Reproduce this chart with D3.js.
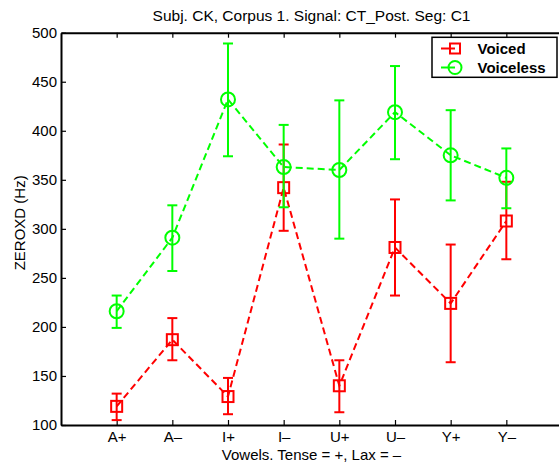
<!DOCTYPE html>
<html>
<head>
<meta charset="utf-8">
<script src="https://cdn.jsdelivr.net/npm/d3@7"></script>
<style>
  html, body { margin: 0; padding: 0; background: #fff; overflow: hidden; }
  svg { display: block; font-family: "Liberation Sans", Arial, Helvetica, sans-serif; }
</style>
</head>
<body>
<svg id="chart" width="559" height="465"></svg>
<script>
// ---- data ----
const categories = ["A+", "A\u2013", "I+", "I\u2013", "U+", "U\u2013", "Y+", "Y\u2013"];
const voicedMean  = [119, 187, 129, 342, 140, 281, 224, 308];
const voicedHigh  = [132, 209, 148, 386, 166, 330, 284, 348];
const voicedLow   = [105, 166, 111, 298, 113, 232, 164, 269];
const voicelessMean = [216, 291, 432, 363, 360, 419, 375, 352];
const voicelessHigh = [232, 324, 489, 406, 431, 466, 421, 382];
const voicelessLow  = [199, 257, 374, 322, 290, 371, 329, 321];
const yTicks = [100, 150, 200, 250, 300, 350, 400, 450, 500];
const titleText = "Subj. CK, Corpus 1. Signal: CT_Post. Seg: C1";
const xLabelText = "Vowels. Tense = +, Lax = \u2013";
const yLabelText = "ZEROXD (Hz)";
const legendNames = ["Voiced", "Voiceless"];

(function () {
// ---- layout ----
const svg = d3.select("#chart");
const pLeft = 61, pRight = 562, pTop = 32.7, pBottom = 425;
const x = d3.scaleLinear().domain([0, 9]).range([pLeft, pRight]);
const y = d3.scaleLinear().domain([100, 500]).range([pBottom, pTop]);
const RED = "#ff0000", GREEN = "#00ff00";
const FS = 15;

// title
svg.append("text").attr("x", (pLeft + pRight) / 2).attr("y", 21)
  .attr("text-anchor", "middle").attr("font-size", 15.5).text(titleText);

// axes
const idx = categories.map((d, i) => i + 1);
const gL = svg.append("g").attr("transform", `translate(${pLeft},0)`)
  .call(d3.axisLeft(y).tickValues(yTicks).tickFormat(d3.format("d")).tickSizeInner(-5).tickSizeOuter(0).tickPadding(4));
const gB = svg.append("g").attr("transform", `translate(0,${pBottom})`)
  .call(d3.axisBottom(x).tickValues(idx).tickFormat((d) => categories[d - 1]).tickSizeInner(-5).tickSizeOuter(0).tickPadding(6.5));
const gT = svg.append("g").attr("transform", `translate(0,${pTop})`)
  .call(d3.axisTop(x).tickValues(idx).tickFormat("").tickSizeInner(-5).tickSizeOuter(0));
[gL, gB, gT].forEach(g => {
  g.selectAll("path.domain").attr("stroke", "#000").attr("stroke-width", 2);
  g.selectAll(".tick line").attr("stroke", "#000").attr("stroke-width", 1.2);
  g.selectAll("text").attr("font-size", FS).attr("fill", "#000")
    .attr("font-family", "'Liberation Sans', Arial, Helvetica, sans-serif");
});

// axis labels
svg.append("text").attr("x", (pLeft + pRight) / 2).attr("y", 459.5)
  .attr("text-anchor", "middle").attr("font-size", FS).text(xLabelText);
svg.append("text").attr("transform", `translate(24.5,${(pTop + pBottom) / 2 - 6}) rotate(-90)`)
  .attr("text-anchor", "middle").attr("font-size", FS).text(yLabelText);

// series
function drawSeries(mean, hi, lo, color, marker) {
  const g = svg.append("g");
  const line = d3.line().x((d, i) => x(i + 1)).y(d => y(d));
  g.append("path").attr("d", line(mean)).attr("fill", "none")
    .attr("stroke", color).attr("stroke-width", 2).attr("stroke-dasharray", "7,4");
  const cap = 5;
  mean.forEach((m, i) => {
    const cx = x(i + 1);
    g.append("line").attr("x1", cx).attr("x2", cx).attr("y1", y(hi[i])).attr("y2", y(lo[i]))
      .attr("stroke", color).attr("stroke-width", 2);
    g.append("line").attr("x1", cx - cap).attr("x2", cx + cap).attr("y1", y(hi[i])).attr("y2", y(hi[i]))
      .attr("stroke", color).attr("stroke-width", 2);
    g.append("line").attr("x1", cx - cap).attr("x2", cx + cap).attr("y1", y(lo[i])).attr("y2", y(lo[i]))
      .attr("stroke", color).attr("stroke-width", 2);
    if (marker === "square") {
      g.append("rect").attr("x", cx - 5.5).attr("y", y(m) - 5.5).attr("width", 11).attr("height", 11)
        .attr("fill", "none").attr("stroke", color).attr("stroke-width", 2);
    } else {
      g.append("circle").attr("cx", cx).attr("cy", y(m)).attr("r", 7)
        .attr("fill", "none").attr("stroke", color).attr("stroke-width", 2);
    }
  });
}
drawSeries(voicedMean, voicedHigh, voicedLow, RED, "square");
drawSeries(voicelessMean, voicelessHigh, voicelessLow, GREEN, "circle");

// legend
const lg = svg.append("g");
lg.append("rect").attr("x", 432).attr("y", 37.3).attr("width", 125).attr("height", 40)
  .attr("fill", "#fff").attr("stroke", "#000").attr("stroke-width", 1.5);
const rows = [{ name: legendNames[0], color: RED, marker: "square", cy: 48.5 },
              { name: legendNames[1], color: GREEN, marker: "circle", cy: 67.5 }];
rows.forEach(r => {
  lg.append("line").attr("x1", 441).attr("x2", 455).attr("y1", r.cy).attr("y2", r.cy)
    .attr("stroke", r.color).attr("stroke-width", 2);
  if (r.marker === "square") {
    lg.append("rect").attr("x", 450).attr("y", r.cy - 5).attr("width", 10).attr("height", 10)
      .attr("fill", "none").attr("stroke", r.color).attr("stroke-width", 2);
  } else {
    lg.append("circle").attr("cx", 455).attr("cy", r.cy).attr("r", 6.5)
      .attr("fill", "none").attr("stroke", r.color).attr("stroke-width", 2);
  }
  lg.append("text").attr("x", 477.5).attr("y", r.cy + 5.5).attr("font-size", 15)
    .attr("font-weight", "bold").text(r.name);
});
})();
</script>
</body>
</html>
